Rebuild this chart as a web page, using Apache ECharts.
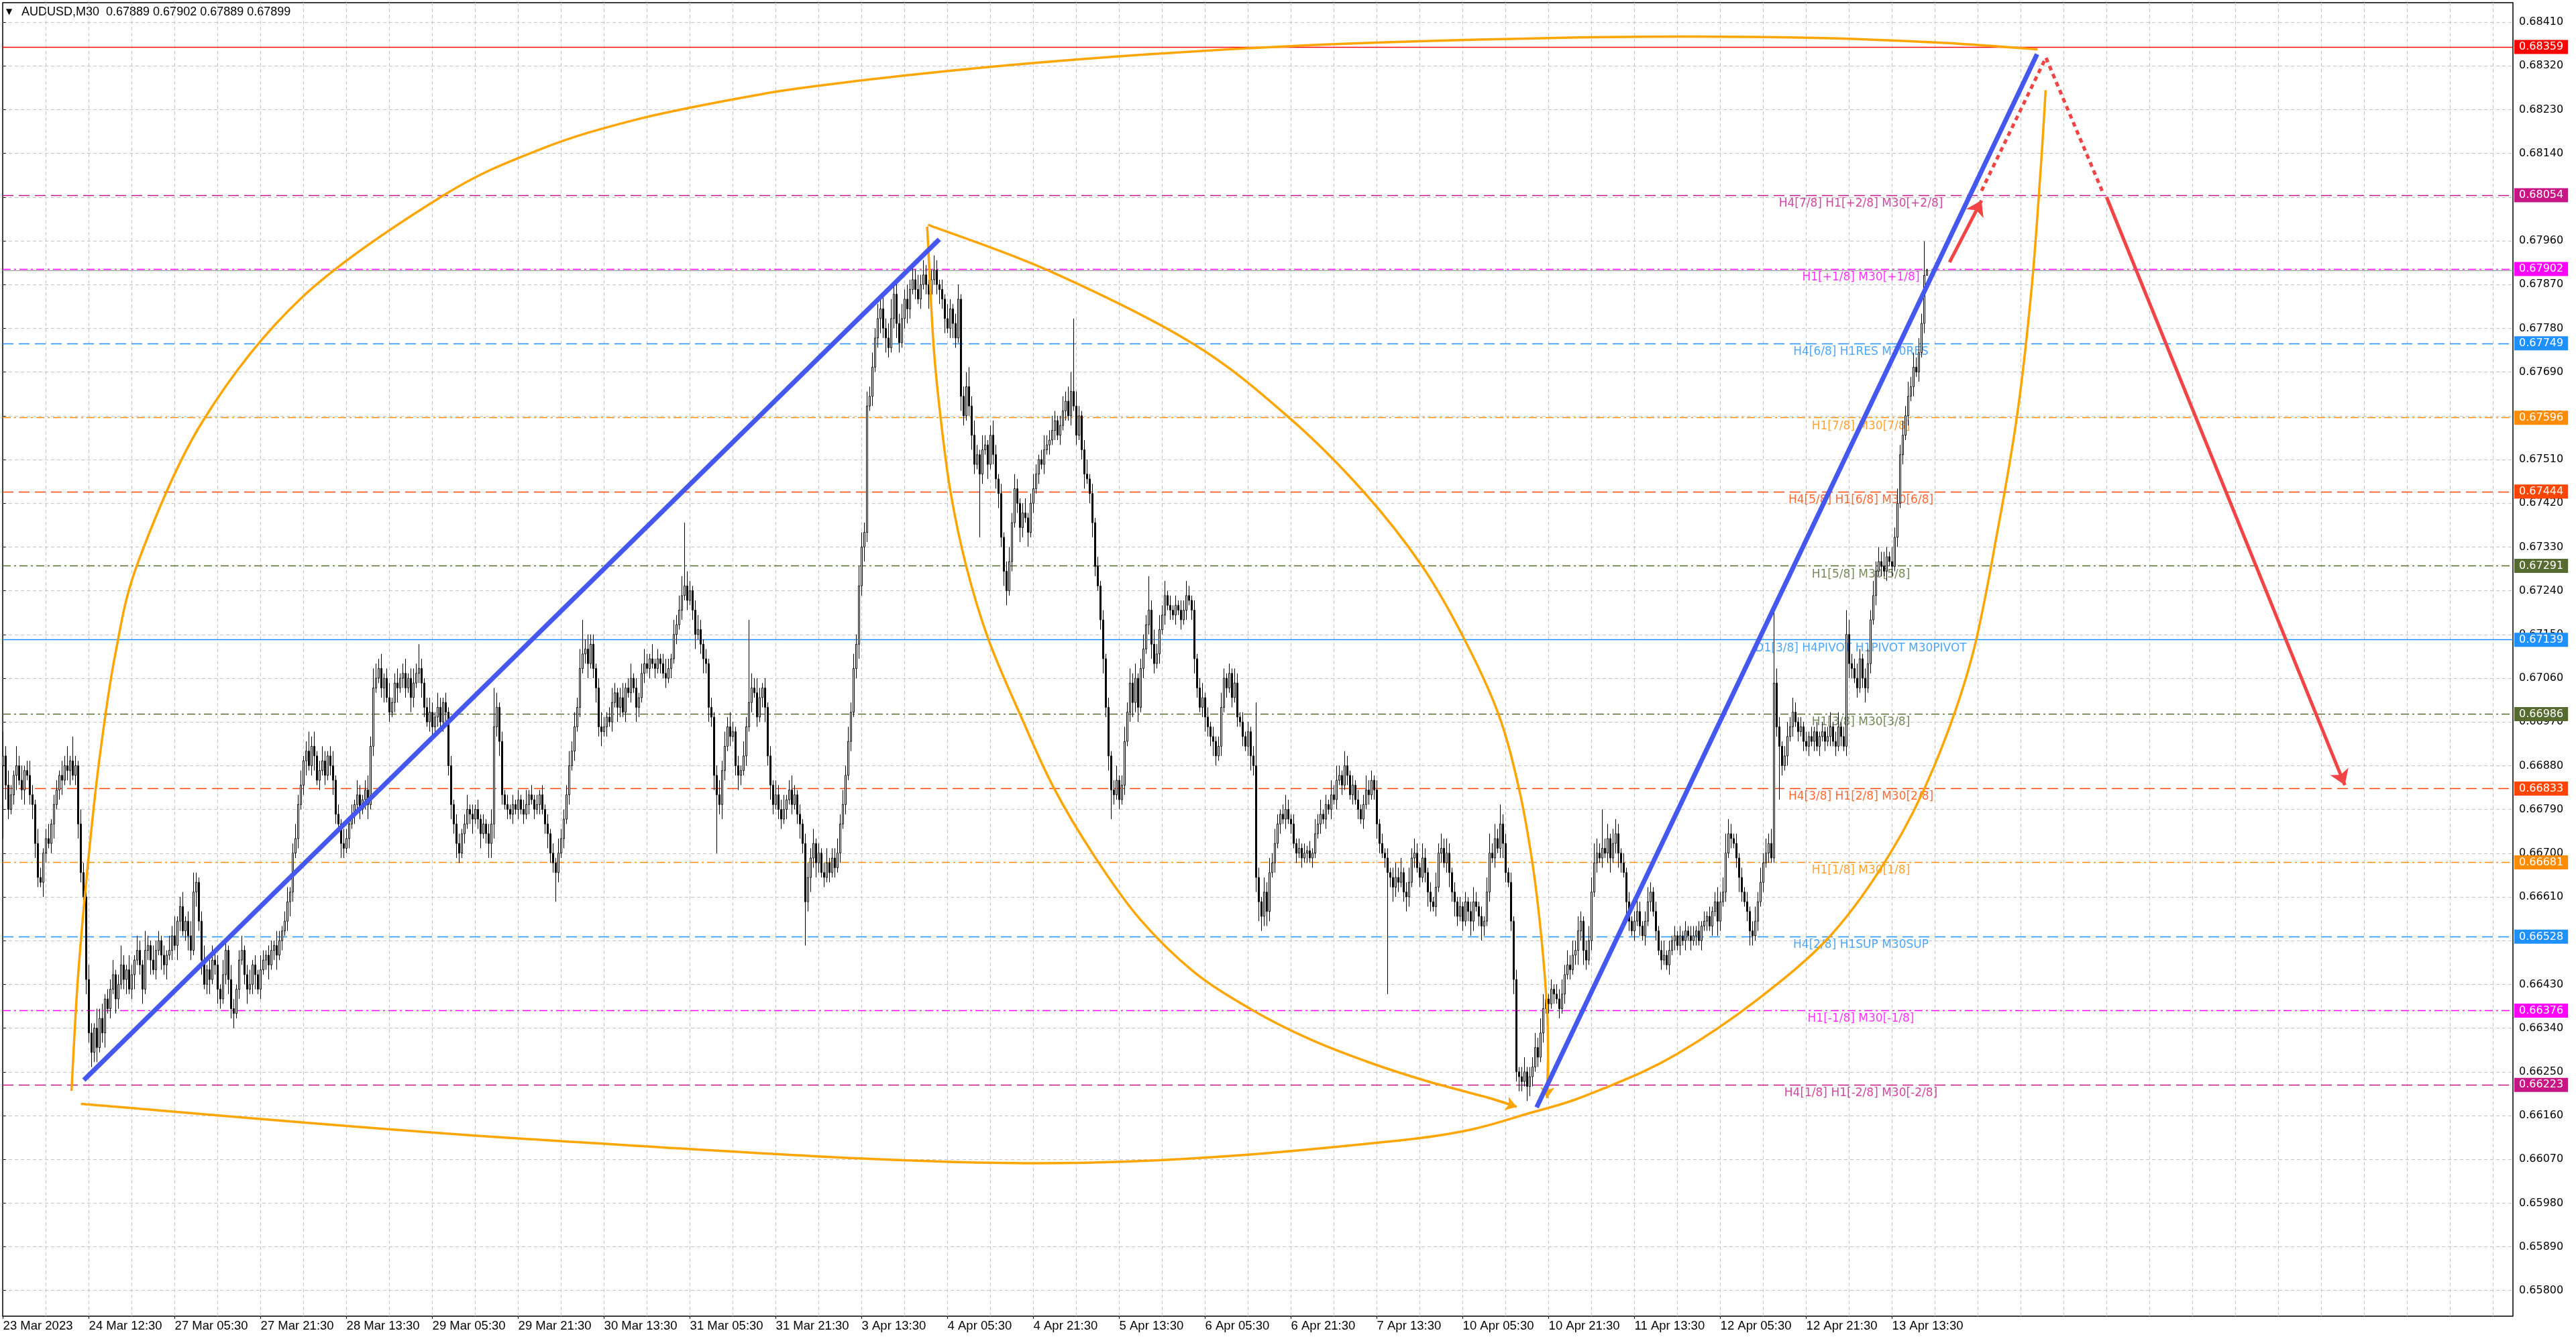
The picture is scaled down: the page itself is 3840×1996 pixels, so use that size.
<!DOCTYPE html>
<html>
<head>
<meta charset="utf-8">
<title>AUDUSD,M30</title>
<script src="https://cdn.jsdelivr.net/npm/echarts@6/dist/echarts.min.js"></script>
<style>
html, body { margin: 0; padding: 0; background: #fff; }
#chart { width: 3840px; height: 1996px; }
</style>
</head>
<body>
<div id="chart"></div>
<script>
// AUDUSD M30, 23 Mar 2023 - 13 Apr 2023
var symbolName = 'AUDUSD,M30';
var firstOpen = 0.66880;

// closes, in points (0.00001) above 0.66000, one row = 10 bars
var closePts = [
  900, 840, 790, 820, 860, 880, 850, 830, 870, 860,
  820, 800, 720, 650, 640, 700, 730, 720, 760, 800,
  830, 860, 850, 880, 870, 890, 860, 880, 760, 660,
  610, 440, 330, 290, 340, 300, 360, 330, 400, 380,
  420, 450, 400, 430, 470, 440, 460, 420, 450, 480,
  500, 470, 420, 500, 510, 480, 460, 500, 520, 490,
  470, 490, 500, 530, 510, 560, 590, 540, 560, 530,
  500, 620, 640, 560, 480, 430, 460, 440, 480, 470,
  420, 400, 450, 500, 440, 380, 370, 420, 480, 500,
  450, 420, 430, 470, 450, 420, 460, 480, 490, 470,
  500, 510, 490, 520, 540, 560, 600, 620, 700, 730,
  800, 840, 890, 910, 880, 920, 900, 850, 870, 890,
  860, 900, 880, 850, 780, 760, 720, 710, 730, 760,
  780, 800, 820, 790, 810, 830, 800, 920, 1040, 1060,
  1080, 1040, 1060, 1020, 990, 1010, 1050, 1040, 1060, 1070,
  1040, 1060, 1020, 1050, 1070, 1080, 1050, 1000, 970, 990,
  960, 980, 1000, 970, 1010, 990, 880, 800, 760, 720,
  700, 740, 760, 790, 780, 770, 790, 770, 740, 760,
  740, 720, 760, 960, 1000, 930, 820, 800, 790, 780,
  800, 790, 810, 790, 780, 800, 820, 810, 790, 800,
  820, 790, 760, 740, 700, 680, 660, 700, 730, 770,
  820, 880, 910, 960, 1000, 1080, 1110, 1120, 1090, 1130,
  1080, 1040, 960, 950, 960, 980, 970, 1010, 1030, 1000,
  1020, 990, 1040, 1030, 1060, 1040, 1000, 1020, 1070, 1090,
  1080, 1100, 1090, 1080, 1100, 1090, 1070, 1060, 1080, 1100,
  1150, 1170, 1200, 1230, 1250, 1220, 1240, 1200, 1150, 1160,
  1130, 1100, 1090, 1000, 980, 860, 820, 800, 870, 920,
  960, 940, 950, 880, 860, 870, 900, 960, 1010, 1040,
  1030, 980, 1020, 1040, 1000, 900, 840, 800, 820, 790,
  770, 790, 810, 830, 800, 820, 780, 760, 720, 600,
  650, 690, 720, 680, 700, 660, 650, 680, 660, 690,
  670, 700, 760, 800, 860, 930, 990, 1080, 1130, 1250,
  1330, 1360, 1620, 1640, 1700, 1760, 1800, 1820, 1780, 1760,
  1740, 1800, 1850, 1790, 1750, 1800, 1840, 1820, 1860, 1880,
  1860, 1840, 1870, 1890, 1870, 1850, 1880, 1900, 1870, 1860,
  1840, 1800, 1780, 1820, 1790, 1760, 1840, 1640, 1600, 1660,
  1620, 1560, 1500, 1520, 1480, 1530, 1540, 1500, 1560, 1520,
  1470, 1440, 1350, 1280, 1240, 1300, 1380, 1450, 1420, 1370,
  1400, 1390, 1360, 1420, 1450, 1480, 1510, 1500, 1530, 1540,
  1550, 1570, 1590, 1560, 1580, 1610, 1630, 1600, 1650, 1620,
  1560, 1600, 1530, 1480, 1470, 1440, 1380, 1290, 1250, 1180,
  1100, 1000, 900, 830, 820, 850, 810, 840, 930, 990,
  1050, 1010, 1060, 1000, 1080, 1120, 1170, 1200, 1130, 1090,
  1110, 1160, 1190, 1230, 1210, 1200, 1190, 1210, 1200, 1180,
  1200, 1230, 1220, 1200, 1100, 1040, 1000, 1020, 980, 960,
  940, 930, 900, 920, 1000, 1060, 1040, 1070, 1020, 1050,
  980, 970, 940, 920, 950, 900, 880, 650, 600, 570,
  620, 580, 660, 680, 720, 760, 780, 770, 790, 770,
  760, 720, 700, 710, 690, 700, 705, 690, 700, 740,
  760, 780, 770, 800, 790, 820, 810, 850, 860, 840,
  880, 860, 820, 840, 810, 790, 770, 800, 830, 820,
  850, 830, 760, 720, 700, 690, 660, 650, 630, 650,
  640, 660, 620, 610, 640, 690, 700, 670, 650, 690,
  660, 620, 600, 590, 630, 700, 710, 680, 700, 660,
  620, 600, 570, 590, 560, 600, 580, 560, 600, 590,
  570, 550, 560, 620, 700, 690, 730, 710, 760, 720,
  660, 640, 560, 440, 250, 240, 230, 250, 220, 240,
  260, 300, 280, 330, 380, 400, 390, 420, 410, 400,
  380, 410, 450, 470, 460, 490, 500, 540, 560, 500,
  480, 520, 620, 680, 700, 690, 710, 700, 730, 690,
  720, 740, 700, 680, 660, 600, 560, 540, 560, 580,
  550, 530, 560, 600, 620, 580, 540, 500, 480, 490,
  470, 500, 520, 530, 510, 530, 520, 540, 530, 520,
  530, 540, 520, 550, 560, 570, 550, 580, 600, 560,
  600, 620, 700, 740, 730, 720, 690, 650, 620, 600,
  580, 540, 530, 560, 600, 640, 680, 700, 720, 690,
  1050, 960, 920, 880, 900, 940, 960, 990, 970, 950,
  960, 930, 920, 940, 930, 950, 920, 940, 950, 930,
  940, 960, 930, 920, 960, 940, 920, 1150, 1090, 1080,
  1060, 1040, 1100, 1060, 1040, 1090, 1180, 1230, 1280, 1300,
  1290, 1280, 1310, 1300, 1290, 1350, 1420, 1520, 1560, 1600,
  1640, 1660, 1700, 1690, 1730, 1790, 1889, 1899
];

// upper wick above the body, in pips
var upWick = [
  5,2,3,2,1,4,2,3,1,2, 3,2,1,3,2,1,2,3,1,2, 2,1,3,2,4,1,5,2,1,3, 2,1,3,2,1,4,2,3,1,2,
  2,3,1,2,4,2,1,3,2,1, 3,2,1,4,2,1,3,2,2,1, 2,1,3,2,4,1,2,3,1,2, 3,4,2,1,2,3,1,2,3,2,
  2,1,3,2,1,3,2,1,2,3, 1,2,3,1,2,1,3,2,1,2, 2,1,3,2,1,2,3,1,2,3, 2,3,1,2,4,2,3,1,2,3,
  2,1,2,3,1,2,1,3,2,1, 2,1,3,2,1,2,3,2,4,3, 2,3,1,2,3,1,2,3,1,2, 3,1,2,3,2,5,2,1,2,3,
  2,1,3,2,1,2,1,2,1,2, 2,1,2,3,1,2,1,2,1,2, 1,2,3,8,3,1,2,1,2,1, 2,1,2,1,2,3,1,2,1,2,
  1,2,1,2,1,2,1,3,2,2, 2,3,2,3,2,4,7,2,3,2, 2,1,2,3,2,1,2,3,2,1, 2,3,1,2,3,1,2,1,2,3,
  2,1,3,1,2,1,2,3,2,1, 3,2,3,4,13,3,2,1,2,3, 2,1,2,1,2,1,2,3,2,3, 2,3,2,1,2,1,3,2,17,3,
  2,3,2,1,2,1,2,1,3,2, 2,3,1,2,3,2,1,2,1,2, 3,2,3,1,2,1,2,3,1,2, 2,3,2,3,2,3,2,3,2,4,
  3,2,3,2,3,2,3,2,3,2, 3,4,2,3,2,3,2,3,2,3, 2,3,2,3,2,1,2,3,2,1, 2,1,3,2,1,2,3,1,2,3,
  4,2,3,2,1,3,2,1,2,3, 2,1,2,1,2,3,2,3,2,1, 2,3,1,2,3,2,1,2,3,2, 2,3,2,1,2,3,2,3,4,15,
  3,2,1,2,3,1,2,1,2,1, 2,1,2,1,2,3,1,2,3,2, 3,2,3,1,2,3,2,7,2,3, 2,3,2,3,1,2,1,2,1,2,
  2,3,2,1,2,1,2,3,1,2, 1,2,1,2,3,2,1,2,1,3, 2,1,2,1,2,1,2,13,2,1, 3,2,3,2,3,2,1,2,3,2,
  1,2,1,2,1,2,1,2,1,3, 2,3,1,2,1,3,2,3,2,1, 3,2,1,2,1,2,1,2,3,2, 2,1,2,1,2,1,2,1,2,3,
  2,3,1,2,3,2,3,2,1,3, 2,1,2,1,3,2,3,2,3,2, 1,2,1,2,1,2,1,2,3,2, 1,2,1,3,4,2,3,2,4,2,
  2,1,2,1,2,1,2,3,1,2, 2,3,2,3,3,2,1,2,1,2, 2,3,2,3,2,3,2,3,2,1, 2,3,3,4,3,2,8,2,3,1,
  3,3,2,1,2,1,2,1,2,3, 2,1,2,3,2,1,2,1,2,3, 1,2,1,2,1,2,1,2,1,2, 2,1,2,1,2,1,2,1,2,3,
  2,3,4,3,2,1,2,1,2,1, 2,1,2,3,2,3,2,3,2,3, 15,3,2,1,2,3,2,3,2,1, 2,1,2,1,2,1,2,1,2,1,
  2,3,1,2,3,1,2,5,3,2, 2,3,2,1,2,3,2,3,2,3, 2,3,2,1,3,2,3,2,3,2, 3,2,3,2,3,2,7,0.3
];

// lower wick below the body, in pips
var downWick = [
  15,3,2,1,2,3,1,2,3,1, 2,3,3,2,1,3,2,1,2,3, 1,2,3,1,2,3,1,2,3,2, 2,3,2,3,2,3,1,2,3,1,
  2,1,3,2,1,2,3,1,2,3, 1,2,3,1,2,3,1,2,1,3, 2,3,1,2,1,3,2,1,2,3, 2,1,3,2,3,1,2,3,1,2,
  3,2,1,2,3,2,3,1,2,1, 2,3,1,2,3,1,2,1,2,3, 1,2,3,1,2,1,2,3,2,1, 2,1,2,3,1,2,3,1,2,1,
  2,1,2,3,2,1,3,2,1,2, 1,2,1,2,1,2,3,1,2,1, 1,2,3,1,2,1,2,3,1,2, 2,1,3,2,1,2,3,2,1,2,
  2,1,2,1,2,3,2,3,2,3, 2,1,2,1,2,3,1,2,3,1, 2,3,3,3,2,3,2,1,2,1, 2,1,2,1,2,1,2,1,2,1,
  2,1,2,3,2,2,6,2,1,2, 1,2,1,2,1,2,1,2,3,1, 2,3,2,3,1,2,1,2,1,3, 2,1,2,1,2,1,3,2,1,2,
  1,2,1,2,1,2,1,2,1,2, 1,2,1,2,1,2,1,2,3,1, 2,3,2,3,2,3,12,2,3,2, 1,2,1,2,3,2,1,2,1,2,
  1,2,1,2,3,2,3,2,1,2, 2,1,2,1,2,1,2,3,2,9, 2,3,2,3,2,1,2,1,2,1, 2,1,2,1,2,1,2,1,2,3,
  2,3,2,1,2,1,2,3,2,3, 2,1,2,3,2,1,2,3,2,1, 2,1,2,1,2,3,2,1,2,3, 2,3,1,2,3,2,1,3,2,1,
  2,3,2,1,13,2,1,3,1,2, 2,3,2,3,3,1,2,1,2,3, 2,1,3,1,2,1,2,1,2,1, 2,1,2,1,2,1,2,1,2,1,
  2,1,2,3,1,2,3,2,1,2, 3,2,3,6,2,1,2,1,2,1, 2,3,2,3,1,2,1,2,3,2, 1,2,1,2,1,2,1,2,1,2,
  1,2,1,2,3,2,1,2,3,2, 2,3,2,1,2,1,2,1,2,1, 2,1,2,1,2,3,2,3,4,3, 2,3,2,1,2,1,2,1,2,1,
  2,1,2,1,2,1,2,1,2,1, 1,2,1,2,1,2,1,2,1,2, 1,2,1,2,1,2,1,2,1,2, 1,2,3,2,1,2,25,2,3,2,
  2,1,2,3,2,1,2,1,2,1, 2,3,2,1,2,1,2,1,2,3, 2,3,2,1,2,1,2,3,2,1, 2,3,2,1,2,1,2,1,2,3,
  2,1,2,3,2,3,2,1,3,2, 2,1,2,1,2,1,2,1,2,1, 2,1,2,1,2,1,2,3,2,3, 2,1,2,1,2,1,2,1,2,3,
  1,2,3,2,1,3,2,1,2,1, 2,1,2,1,2,1,2,1,2,1, 1,2,1,2,1,2,1,2,1,2, 1,2,1,2,1,2,1,2,1,3,
  2,1,2,1,2,1,2,3,2,1, 2,3,2,1,2,1,2,1,2,1, 1,2,11,2,1,2,1,2,1,2, 1,2,1,2,1,2,1,2,1,2,
  1,2,1,2,1,2,1,2,3,2, 1,2,1,2,3,1,2,1,2,1, 2,1,2,1,2,1,2,1,2,1, 2,1,2,1,2,1,2,0
];

// x-axis labels, one every 32 bars
var labelBars = [0, 32, 64, 96, 128, 160, 192, 224, 256, 288, 320, 352, 384, 416, 448, 480, 512, 544, 576, 608, 640, 672, 704];
var timeLabels = ['23 Mar 2023', '24 Mar 12:30', '27 Mar 05:30', '27 Mar 21:30', '28 Mar 13:30', '29 Mar 05:30',
  '29 Mar 21:30', '30 Mar 13:30', '31 Mar 05:30', '31 Mar 21:30', '3 Apr 13:30', '4 Apr 05:30', '4 Apr 21:30',
  '5 Apr 13:30', '6 Apr 05:30', '6 Apr 21:30', '7 Apr 13:30', '10 Apr 05:30', '10 Apr 21:30', '11 Apr 13:30',
  '12 Apr 05:30', '12 Apr 21:30', '13 Apr 13:30'];

var yTicks = [0.65800, 0.65890, 0.65980, 0.66070, 0.66160, 0.66250, 0.66340, 0.66430, 0.66520, 0.66610,
  0.66700, 0.66790, 0.66880, 0.66970, 0.67060, 0.67150, 0.67240, 0.67330, 0.67420, 0.67510,
  0.67600, 0.67690, 0.67780, 0.67870, 0.67960, 0.68050, 0.68140, 0.68230, 0.68320, 0.68410];

// Murrey math levels
var levelPrices = [0.68359, 0.68054, 0.67902, 0.67749, 0.67596, 0.67444, 0.67291, 0.67139, 0.66986, 0.66833, 0.66681, 0.66528, 0.66376, 0.66223];
var levelNames = ['', 'H4[7/8] H1[+2/8] M30[+2/8]', 'H1[+1/8] M30[+1/8]', 'H4[6/8] H1RES M30RES', 'H1[7/8] M30[7/8]',
  'H4[5/8] H1[6/8] M30[6/8]', 'H1[5/8] M30[5/8]', 'D1[3/8] H4PIVOT H1PIVOT M30PIVOT', 'H1[3/8] M30[3/8]',
  'H4[3/8] H1[2/8] M30[2/8]', 'H1[1/8] M30[1/8]', 'H4[2/8] H1SUP M30SUP', 'H1[-1/8] M30[-1/8]', 'H4[1/8] H1[-2/8] M30[-2/8]'];
var levelColors = ['#ff0000', '#c71585', '#ff00ff', '#1e90ff', '#ff8c00', '#ff4500', '#556b2f', '#1e90ff', '#556b2f', '#ff4500', '#ff8c00', '#1e90ff', '#ff00ff', '#c71585'];
var levelDash = ['solid', 'dashed', 'dashdot', 'dashed', 'dashdot', 'dashed', 'dashdot', 'solid', 'dashdot', 'dashed', 'dashdot', 'dashed', 'dashdot', 'dashed'];

// drawn objects, as [bar, price]
var trendLines = [
  [[30.1, 0.66233], [348.9, 0.67963]],
  [[571.5, 0.66177], [758.0, 0.68344]]
];
var outerArc = [[25.5, 0.66211], [27.8, 0.66435], [31.3, 0.66660], [35.7, 0.66885], [41.8, 0.67109], [50.6, 0.67303],
  [74.3, 0.67588], [111.1, 0.67842], [163.7, 0.68052], [200.5, 0.68149], [235.6, 0.68209], [273.9, 0.68253],
  [305.0, 0.68280], [366.3, 0.68317], [427.5, 0.68344], [488.7, 0.68363], [550.0, 0.68374], [611.2, 0.68380],
  [672.4, 0.68378], [721.4, 0.68368], [758.2, 0.68354]];
var bowlCurve = [[344.39, 0.67989], [346.73, 0.67748], [349.41, 0.67595], [353.09, 0.67443], [358.95, 0.67290],
  [367.32, 0.67138], [379.04, 0.66985], [391.60, 0.66834], [406.67, 0.66694], [423.41, 0.66566], [443.50, 0.66457],
  [465.26, 0.66378], [487.03, 0.66317], [508.79, 0.66270], [530.56, 0.66231], [554.00, 0.66196], [564.05, 0.66178]];
var dropCurve = [[344.72, 0.67993], [389.92, 0.67898], [443.50, 0.67748], [479.49, 0.67595], [507.12, 0.67443],
  [528.89, 0.67290], [544.79, 0.67138], [557.35, 0.66985], [564.88, 0.66834], [569.90, 0.66681], [573.25, 0.66528],
  [575.43, 0.66374], [575.76, 0.66272], [575.43, 0.66196]];
var baseCurve = [[29.0, 0.66184], [191.8, 0.66113], [384.6, 0.66062], [520.5, 0.66109], [572.0, 0.66170],
  [598.8, 0.66221], [623.9, 0.66287], [654.1, 0.66400], [681.3, 0.66532], [703.1, 0.66698], [719.6, 0.66878],
  [733.7, 0.67103], [743.5, 0.67370], [750.8, 0.67610], [756.0, 0.67864], [759.4, 0.68111], [761.2, 0.68270]];
var bowlTip = [[554.0, 0.66196], [564.05, 0.66178]];
var dropTip = [[575.76, 0.66272], [575.43, 0.66196]];
var redUp = [[725.4, 0.67916], [737.3, 0.68043]];
var redDotted = [[737.3, 0.68063], [761.3, 0.68337], [782.7, 0.68057]];
var redDown = [[783.9, 0.68050], [872.7, 0.66840]];

// build OHLC
var opens = [], closes = [], highs = [], lows = [];
for (var i = 0; i < closePts.length; i++) {
  var c = +(0.66 + closePts[i] / 100000).toFixed(5);
  var o = i === 0 ? firstOpen : closes[i - 1];
  opens.push(o);
  closes.push(c);
  highs.push(+(Math.max(o, c) + upWick[i] / 10000).toFixed(5));
  lows.push(+(Math.min(o, c) - downWick[i] / 10000).toFixed(5));
}
var last = closes.length - 1;
var candleData = closes.map(function (c, i) { return [i, opens[i], c, lows[i], highs[i]]; });
var headerText = symbolName + '  ' + [opens[last], highs[last], lows[last], closes[last]].map(function (v) { return v.toFixed(5); }).join(' ');

var dashOf = { solid: 'solid', dashed: [16, 8], dashdot: [12, 5, 3, 5] };

var gridLineData = yTicks.map(function (v) { return { yAxis: v }; });
for (var b = 16; b < 935; b += 16) gridLineData.push({ xAxis: b });

var levelLineData = levelPrices.map(function (p, k) {
  return {
    yAxis: p,
    lineStyle: { color: levelColors[k], type: dashOf[levelDash[k]], width: 1.3 },
    label: {
      show: true, position: 'end', distance: 2, formatter: p.toFixed(5),
      color: '#fff', backgroundColor: levelColors[k], padding: [3, 7, 2, 7],
      fontFamily: 'DejaVu Sans', fontSize: 16
    }
  };
});
levelLineData.push({ yAxis: closes[last], lineStyle: { color: '#9a9a9a', type: 'solid', width: 1 }, label: { show: false } });

var levelLabelBar = 692.35;
var levelTextData = [];
levelPrices.forEach(function (p, k) {
  if (!levelNames[k]) return;
  levelTextData.push({ value: [levelLabelBar, p], label: { formatter: levelNames[k], color: levelColors[k] } });
});

// smooth hand-drawn curves: Catmull-Rom through the read points, drawn as bezier paths
var curves = [outerArc, bowlCurve, dropCurve, baseCurve];
function smoothPath(pts) {
  var d = 'M' + pts[0][0] + ' ' + pts[0][1];
  for (var k = 0; k < pts.length - 1; k++) {
    var p0 = pts[k - 1] || pts[k], p1 = pts[k], p2 = pts[k + 1], p3 = pts[k + 2] || p2;
    d += ' C' + (p1[0] + (p2[0] - p0[0]) / 6) + ' ' + (p1[1] + (p2[1] - p0[1]) / 6) + ' ' +
      (p2[0] - (p3[0] - p1[0]) / 6) + ' ' + (p2[1] - (p3[1] - p1[1]) / 6) + ' ' + p2[0] + ' ' + p2[1];
  }
  return d;
}

var chart = echarts.init(document.getElementById('chart'));
var option = {
  animation: false,
  backgroundColor: '#ffffff',
  grid: { left: 4, right: 94, top: 4, bottom: 34, show: true, borderColor: '#000', borderWidth: 1.5, backgroundColor: '#fff' },
  graphic: [
    { type: 'text', left: 9, top: 12, style: { text: '\u25BC', font: '12px "DejaVu Sans"', fill: '#000' } },
    { type: 'text', left: 32, top: 9, style: { text: headerText, font: '18px "Liberation Sans"', fill: '#000' } }
  ],
  xAxis: {
    type: 'value', min: -0.15, max: 935.35,
    axisLine: { show: false },
    splitLine: { show: false },
    axisTick: { show: true, customValues: labelBars, length: 4, lineStyle: { color: '#000' } },
    axisLabel: {
      customValues: labelBars,
      formatter: function (v) { return timeLabels[labelBars.indexOf(v)]; },
      align: 'left', margin: 5, color: '#000', fontFamily: 'Liberation Sans', fontSize: 18.5
    }
  },
  yAxis: {
    type: 'value', position: 'right', min: 0.657472, max: 0.6845, scale: true,
    axisLine: { show: false },
    splitLine: { show: false },
    axisTick: { show: true, customValues: yTicks, length: 4, lineStyle: { color: '#000' } },
    axisLabel: {
      customValues: yTicks,
      formatter: function (v) { return v.toFixed(5); },
      margin: 9, color: '#000', fontFamily: 'DejaVu Sans', fontSize: 16
    }
  },
  series: [
    {
      name: 'grid', type: 'line', data: [], silent: true,
      markLine: {
        silent: true, symbol: 'none', z: 0, precision: 6, animation: false, label: { show: false },
        lineStyle: { color: '#c4c4c4', type: [5, 4], width: 1 },
        data: gridLineData
      }
    },
    {
      name: 'levels', type: 'line', data: [], silent: true,
      markLine: { silent: true, symbol: 'none', z: 1, precision: 6, animation: false, data: levelLineData }
    },
    {
      name: 'levelText', type: 'scatter', data: levelTextData, symbolSize: 0, silent: true, z: 1,
      label: { show: true, position: 'bottom', distance: 4, fontFamily: 'DejaVu Sans', fontSize: 17 }
    },
    {
      name: symbolName, type: 'candlestick', data: candleData, encode: { x: 0, y: [1, 2, 3, 4] },
      large: false, barWidth: 3, z: 2, silent: true,
      itemStyle: { color: '#ffffff', color0: '#000000', borderColor: '#000000', borderColor0: '#000000', borderWidth: 1 }
    },
    {
      type: 'line', data: trendLines[0], symbol: 'none', silent: true, z: 4,
      lineStyle: { color: '#4457ee', width: 7 }
    },
    {
      type: 'line', data: trendLines[1], symbol: 'none', silent: true, z: 4,
      lineStyle: { color: '#4457ee', width: 7 }
    },
    {
      type: 'custom', z: 4, silent: true, clip: true,
      data: curves.map(function (c, k) { return [k]; }),
      renderItem: function (params, api) {
        var pts = curves[params.dataIndex].map(function (p) { return api.coord(p); });
        return {
          type: 'path',
          shape: { pathData: smoothPath(pts) },
          style: { stroke: '#ffa500', lineWidth: 3.5, fill: 'none' }
        };
      }
    },
    {
      type: 'lines', coordinateSystem: 'cartesian2d', z: 4, silent: true,
      symbol: ['none', 'arrow'], symbolSize: 16,
      lineStyle: { color: '#ffa500', width: 3.5, opacity: 1 },
      data: [{ coords: bowlTip }, { coords: dropTip }]
    },
    {
      type: 'lines', coordinateSystem: 'cartesian2d', z: 5, silent: true,
      symbol: ['none', 'arrow'], symbolSize: 22,
      lineStyle: { color: '#f24444', width: 5, opacity: 1 },
      data: [{ coords: redUp }, { coords: redDown }]
    },
    {
      type: 'lines', coordinateSystem: 'cartesian2d', polyline: true, z: 5, silent: true,
      symbol: ['none', 'arrow'], symbolSize: 22,
      lineStyle: { color: '#f24444', width: 5, type: [7, 6], opacity: 1 },
      data: [{ coords: redDotted }]
    }
  ]
};
chart.setOption(option);
</script>
</body>
</html>
